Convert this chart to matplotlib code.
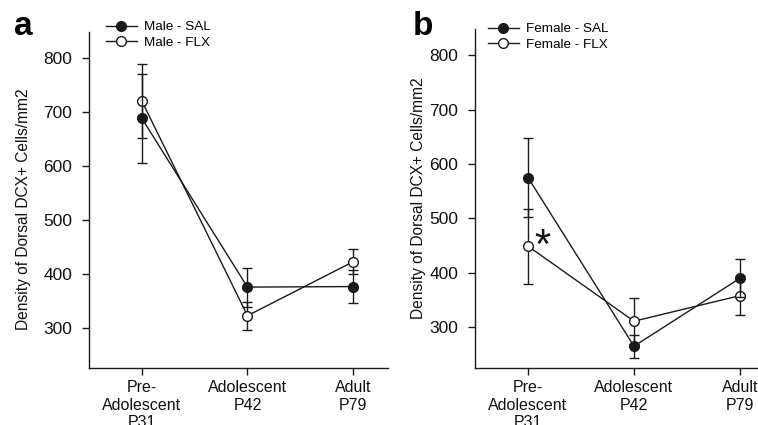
import matplotlib
matplotlib.use("Agg")
import matplotlib.pyplot as plt
from matplotlib.lines import Line2D

plt.rcParams['font.family'] = ['Liberation Sans', 'DejaVu Sans']

categories = ["Pre-\nAdolescent\nP31", "Adolescent\nP42", "Adult\nP79"]
yticks = [300, 400, 500, 600, 700, 800]

male_sal = [689, 376, 377]
male_sal_err = [82, 36, 30]
male_flx = [721, 323, 423]
male_flx_err = [69, 26, 23]

female_sal = [575, 265, 390]
female_sal_err = [72, 21, 35]
female_flx = [449, 311, 358]
female_flx_err = [69, 42, 35]

W, H = 758, 425
fig = plt.figure(figsize=(W / 100, H / 100), dpi=100)

def px_axes(left, top, right, bottom):
    return fig.add_axes([left / W, 1 - bottom / H, (right - left) / W, (bottom - top) / H])

axa = px_axes(89, 32, 388, 368)
axb = px_axes(475, 29, 758, 368)

lc = '#1a1a1a'

def draw(ax, sal, sal_err, flx, flx_err, labels, xmax, ylim):
    x = list(range(len(categories)))
    ax.errorbar(x, flx, yerr=flx_err, color=lc, lw=1.0, elinewidth=1.0, capsize=3.6,
                capthick=1.0, marker='o', ms=7, mfc='white', mec=lc, mew=1.0, zorder=3,
                label=labels[1])
    ax.errorbar(x, sal, yerr=sal_err, color=lc, lw=1.0, elinewidth=1.0, capsize=3.6,
                capthick=1.0, marker='o', ms=7, mfc=lc, mec=lc, mew=1.0, zorder=4,
                label=labels[0])
    ax.set_xlim(-0.5, xmax)
    ax.set_ylim(*ylim)
    ax.set_xticks(x)
    ax.set_xticklabels(categories, fontsize=11.5, color='#111111')
    ax.set_yticks(yticks)
    ax.set_yticklabels([str(v) for v in yticks], fontsize=12.5, color='#111111')
    for s in ['top', 'right']:
        ax.spines[s].set_visible(False)
    for s in ['left', 'bottom']:
        ax.spines[s].set_linewidth(1.0)
        ax.spines[s].set_color(lc)
    ax.tick_params(axis='y', direction='out', length=5, width=1.0, pad=7, color=lc)
    ax.tick_params(axis='x', direction='out', length=5, width=1.0, pad=4, color=lc)
    ax.set_ylabel("Density of Dorsal DCX+ Cells/mm2", fontsize=11.2, color='#111111')

draw(axa, male_sal, male_sal_err, male_flx, male_flx_err,
     ["Male - SAL", "Male - FLX"], 2.33, (226, 849))
draw(axb, female_sal, female_sal_err, female_flx, female_flx_err,
     ["Female - SAL", "Female - FLX"], 2.17, (225, 848))

axa.yaxis.set_label_coords(-58 / 299, 0.473)
axb.yaxis.set_label_coords(-49 / 283, 0.5)

def legend(ax, labels, x0, y0):
    h = [Line2D([], [], color=lc, lw=1.0, marker='o', ms=7, mfc=lc, mec=lc),
         Line2D([], [], color=lc, lw=1.0, marker='o', ms=7, mfc='white', mec=lc)]
    ax.legend(h, labels, loc='upper left', bbox_to_anchor=(x0 / W, 1 - y0 / H),
              bbox_transform=fig.transFigure, frameon=False, fontsize=9.7,
              handlelength=2.3, handletextpad=0.5, labelspacing=0.2,
              borderpad=0, borderaxespad=0)

legend(axa, ["Male - SAL", "Male - FLX"], 106, 21)
legend(axb, ["Female - SAL", "Female - FLX"], 488, 23)

axb.text(0.14, 428, "*", fontsize=30, ha='center', va='baseline', color='#111111')

fig.text(14 / W, 1 - 35 / H, "a", fontsize=24, fontweight='bold', va='baseline', ha='left')
fig.text(413 / W, 1 - 35 / H, "b", fontsize=24, fontweight='bold', va='baseline', ha='left')

fig.savefig("out.png", dpi=100)
